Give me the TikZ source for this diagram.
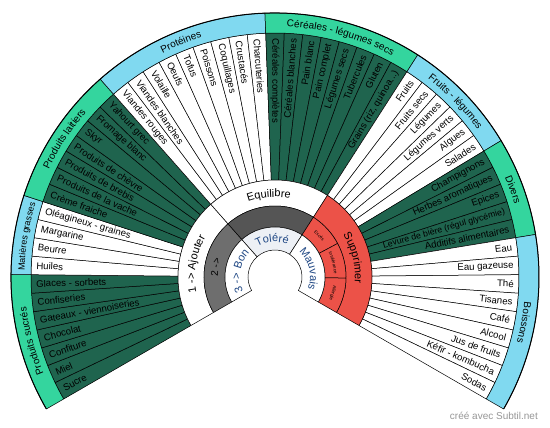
\documentclass[tikz,border=0pt]{standalone}
\usepackage{fontspec}
\setmainfont{Liberation Sans}
\usepackage{xcolor}
\usetikzlibrary{decorations.text}
\definecolor{leafgreen}{RGB}{31,100,78}
\definecolor{catgreen}{RGB}{52,213,158}
\definecolor{catblue}{RGB}{128,217,240}
\definecolor{cutred}{RGB}{236,82,72}
\definecolor{lightgrey}{RGB}{110,110,110}
\definecolor{deepgrey}{RGB}{85,85,85}
\definecolor{paleblue}{RGB}{237,240,245}
\definecolor{textblue}{RGB}{31,71,132}
\definecolor{creditgrey}{RGB}{150,150,150}

% radii of the rings, in pt
\def\rzero{27}
\def\rone{50}
\def\rtwo{71}
\def\rthree{97}
\def\rfour{244}
\def\rfive{264}
\def\dstep{4.363636}

% labels that would upset \foreach
\newcommand{\grainslabel}{Grains (riz, quinoa...)}
\newcommand{\levurelabel}{{\fontsize{8.8}{10}\selectfont Levure de bière (régul glycémie)}}

% ring sector: [style] r in, r out, start angle, end angle
\newcommand{\sector}[5][]{%
  \draw[#1] (#4:#2) arc[start angle=#4,end angle=#5,radius=#2]
    -- (#5:#3) arc[start angle=#5,end angle=#4,radius=#3] -- cycle;}

% text set along a clockwise arc: radius, from, to, size, text
\newcommand{\arclabel}[6][black]{%
  \path[decorate,decoration={text along path,text align=center,text color=#1,
    text={|\fontsize{#5}{#5}\selectfont|#6}}]
    (#3:#2) arc[start angle=#3,end angle=#4,radius=#2];}

% one run of leaves: first index, fill, list
\newcommand{\leafgroup}[3]{%
  \foreach \txt [count=\k from #1] in {#3} {
    \pgfmathsetmacro{\la}{210-\k*\dstep}
    \pgfmathsetmacro{\lb}{\la-\dstep}
    \pgfmathsetmacro{\lm}{\la-\dstep/2}
    \sector[ring,fill=#2]{\rthree}{\rfour}{\la}{\lb}
    \ifdim\lm pt>89pt
      \pgfmathsetmacro{\lr}{\lm-180}
      \node[leaftext,anchor=west,rotate=\lr] (leaf-\k) at ({\lm}:{\rfour-5}) {\txt};
    \else
      \node[leaftext,anchor=east,rotate=\lm] (leaf-\k) at ({\lm}:{\rfour-5}) {\txt};
    \fi
  }}

% outer category band: first index, number of leaves, fill, text, size
\newcommand{\catband}[5]{%
  \pgfmathsetmacro{\ca}{210-#1*\dstep}
  \pgfmathsetmacro{\cb}{210-(#1+#2)*\dstep}
  \sector[ring,fill=#3]{\rfour}{\rfive}{\ca}{\cb}
  \arclabel{250.5}{\ca}{\cb}{#5}{#4}}

\begin{document}
\begin{tikzpicture}[x=1pt,y=1pt,line join=round,
  ring/.style={draw=black,line width=0.5pt},
  leaftext/.style={inner sep=0pt,font=\fontsize{9.6}{11}\selectfont}]
  \path[use as bounding box] (-275,-151) rectangle (275,277);

  % leaves
  \leafgroup{0}{leafgreen}{Sucre,Miel,Confiture,Chocolat,Gateaux - viennoiseries,Confiseries,Glaces - sorbets}
  \leafgroup{7}{white}{Huiles,Beurre,Margarine,Oléagineux - graines}
  \leafgroup{11}{leafgreen}{Crème fraiche,Produits de la vache,Produits de brebis,Produits de chèvre,Skyr,Fromage blanc,Yahourt grec}
  \leafgroup{18}{white}{Viandes rouges,Viandes blanches,Volaille,Oeufs,Tofus,Poissons,Coquillages,Crustacés,Charcuteries}
  \leafgroup{27}{leafgreen}{Céréales complètes,Céréales blanches,Pain blanc,Pain complet,Légumes secs,Tubercules,Gluten,\grainslabel}
  \leafgroup{35}{white}{Fruits,Fruits secs,Légumes,Légumes verts,Algues,Salades}
  \leafgroup{41}{leafgreen}{Champignons,Herbes aromatiques,Epices,\levurelabel,Additifs alimentaires}
  \leafgroup{46}{white}{Eau,Eau gazeuse,Thé,Tisanes,Café,Alcool,Jus de fruits,Kéfir - kombucha,Sodas}

  % categories
  \catband{0}{7}{catgreen}{Produits sucrés}{10}
  \catband{7}{4}{catblue}{Matières grasses}{9}
  \catband{11}{7}{catgreen}{Produits laitiers}{10}
  \catband{18}{9}{catblue}{Protéines}{10}
  \catband{27}{8}{catgreen}{Céréales - légumes secs}{10}
  \catband{35}{6}{catblue}{Fruits - légumes}{10}
  \catband{41}{5}{catgreen}{Divers}{10}
  \catband{46}{9}{catblue}{Boissons}{10}
  \draw[line width=1pt] (210:\rfive) arc[start angle=210,end angle=-30,radius=\rfive];

  % level 1
  \sector[ring,fill=white]{\rtwo}{\rthree}{210}{131.4545}
  \sector[ring,fill=white]{\rtwo}{\rthree}{131.4545}{57.2727}
  \sector[ring,fill=cutred]{\rtwo}{\rthree}{57.2727}{-30}
  \arclabel{80}{210}{131.4545}{11}{1 -> Ajouter}
  \arclabel{80}{131.4545}{57.2727}{11}{Equilibre}
  \arclabel{80}{57.2727}{-30}{11}{Supprimer}

  % level 2
  \sector[ring,fill=lightgrey]{\rone}{\rtwo}{210}{131.4545}
  \sector[ring,fill=deepgrey]{\rone}{\rtwo}{131.4545}{57.2727}
  \sector[ring,fill=cutred]{\rone}{\rtwo}{57.2727}{28.1818}
  \sector[ring,fill=cutred]{\rone}{\rtwo}{28.1818}{-0.9091}
  \sector[ring,fill=cutred]{\rone}{\rtwo}{-0.9091}{-30}
  \arclabel{57}{210}{131.4545}{10}{2 ->}
  \arclabel{59}{57.2727}{28.1818}{4.5}{Excès}
  \arclabel{59}{28.1818}{-0.9091}{4.5}{Intolérance}
  \arclabel{59}{-0.9091}{-30}{4.5}{Allergie}

  % level 3
  \sector[ring,fill=white]{\rzero}{\rone}{210}{131.4545}
  \sector[ring,fill=paleblue]{\rzero}{\rone}{131.4545}{57.2727}
  \sector[ring,fill=white]{\rzero}{\rone}{57.2727}{-30}
  \arclabel[textblue]{35}{210}{131.4545}{11}{3 -> Bon}
  \arclabel[textblue]{35}{131.4545}{57.2727}{11}{Toléré}
  \arclabel[textblue]{35}{57.2727}{-30}{11}{Mauvais}

  \node[anchor=east,inner sep=0pt,text=creditgrey,font=\fontsize{10}{12}\selectfont]
    (credit) at (263,-139) {créé avec Subtil.net};
\end{tikzpicture}
\end{document}
